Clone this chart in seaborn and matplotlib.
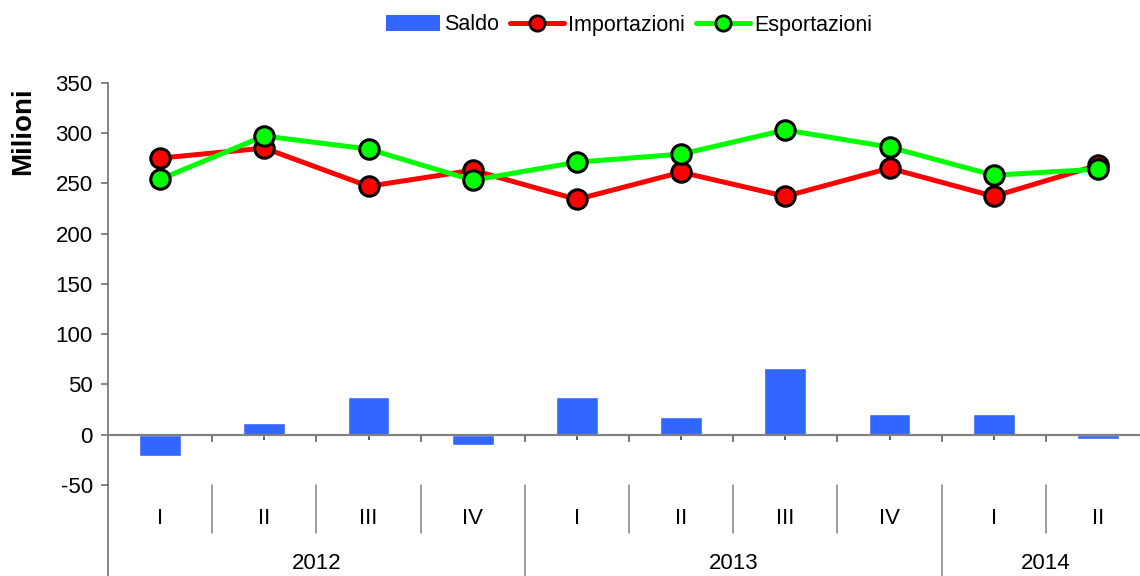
import numpy as np
import pandas as pd
import matplotlib
matplotlib.use("Agg")
import matplotlib.pyplot as plt
import matplotlib.transforms as mtransforms
from matplotlib.patches import Patch
from matplotlib.lines import Line2D
import seaborn as sns

# ── Dati ────────────────────────────────────────────────────────────────────
trimestri = ["I", "II", "III", "IV", "I", "II", "III", "IV", "I", "II"]
anni = ["2012", "2012", "2012", "2012", "2013", "2013", "2013", "2013", "2014", "2014"]
importazioni = [275, 285, 247, 263, 234, 261, 237, 265, 237, 268]
esportazioni = [254, 297, 284, 253, 271, 279, 303, 286, 258, 264]
saldo = [-21, 12, 37, -10, 37, 18, 66, 21, 21, -4]

anni_etichette = ["2012", "2013", "2014"]

df = pd.DataFrame({
    "periodo": [f"{a}-{t}" for a, t in zip(anni, trimestri)],
    "trimestre": trimestri,
    "anno": anni,
    "Importazioni": importazioni,
    "Esportazioni": esportazioni,
    "Saldo": saldo,
})
df["pos"] = np.arange(len(df))

# ── Stile ───────────────────────────────────────────────────────────────────
sns.set_theme(style="white")
plt.rcParams["font.family"] = ["Liberation Sans", "DejaVu Sans"]
plt.rcParams["axes.unicode_minus"] = False
plt.rcParams["text.color"] = "black"
plt.rcParams["ytick.labelcolor"] = "black"

C_SALDO = "#3366FF"
C_IMP = "#FF0000"
C_ESP = "#00FF00"
GRIGIO = "#808080"
FS = 16
MS, MEW, LW = 14, 2.2, 3.6

fig = plt.figure(figsize=(11.4, 5.76), dpi=100)
ax = fig.add_axes([108 / 1140, 91 / 576, 1042 / 1140, (485 - 82.7) / 576])

# barre del saldo
sns.barplot(data=df, x="periodo", y="Saldo", order=df["periodo"], color=C_SALDO,
            saturation=1, width=0.4, errorbar=None, ax=ax, zorder=1)

# linee import/export
for col, c in [("Importazioni", C_IMP), ("Esportazioni", C_ESP)]:
    sns.lineplot(data=df, x="pos", y=col, color=c, lw=LW, marker="o",
                 markersize=MS, markeredgecolor="black", markeredgewidth=MEW,
                 markerfacecolor=c, ax=ax, zorder=3)

ax.set_xlim(-0.5, len(df) - 0.5)
ax.set_ylim(-50, 350)
ax.set_yticks(np.arange(-50, 351, 50))
ax.set_xlabel("")
ax.set_ylabel("")

# assi
for s in ["top", "right"]:
    ax.spines[s].set_visible(False)
ax.spines["left"].set_color("#666666")
ax.spines["left"].set_linewidth(1.1)
ax.spines["bottom"].set_position(("data", 0))
ax.spines["bottom"].set_color(GRIGIO)
ax.spines["bottom"].set_linewidth(1.6)
ax.spines["bottom"].set_zorder(2.5)

ax.set_xticks(np.arange(0.5, len(df) - 0.5, 1.0))
ax.set_xticks(np.arange(len(df)), minor=True)
ax.tick_params(axis="x", which="major", direction="out", length=5, width=1.1,
               color="#555555", labelbottom=False, bottom=True)
ax.tick_params(axis="x", which="minor", direction="out", length=3.5, width=1.1,
               color="#333333", labelbottom=False, bottom=True)
ax.tick_params(axis="y", direction="out", length=5, width=1.1, color="#666666",
               labelsize=FS, pad=6, left=True, labelcolor="black")

# etichette asse categorie (due livelli)
y_bot = -141
for i in range(len(df)):
    ax.text(i, -83, df["trimestre"][i], ha="center", va="center", fontsize=FS,
            clip_on=False)
confini_anno = [i + 0.5 for i in range(len(df) - 1) if anni[i] != anni[i + 1]]
for b in np.arange(0.5, len(df) - 0.5, 1.0):
    if b in confini_anno:
        ax.plot([b, b], [-50, y_bot], color=GRIGIO, lw=1.1, clip_on=False)
    else:
        ax.plot([b, b], [-50, -98], color=GRIGIO, lw=1.1, clip_on=False)
ax.plot([-0.5, -0.5], [-50, y_bot], color="#666666", lw=1.1, clip_on=False)
for a in anni_etichette:
    idx = df.index[df["anno"] == a]
    ax.text(idx.values.mean(), -128, a, ha="center", va="center", fontsize=FS,
            clip_on=False)

# titolo asse y
fig.text(23 / 1140, 1 - 131.5 / 576, "Milioni", rotation=90, ha="center",
         va="center", fontsize=20, fontweight="bold")

# legenda
handles = [
    Patch(facecolor=C_SALDO, edgecolor="none", label="Saldo"),
    Line2D([0], [0], color=C_IMP, lw=LW, marker="o", markersize=11,
           markerfacecolor=C_IMP, markeredgecolor="black", markeredgewidth=2,
           label="Importazioni"),
    Line2D([0], [0], color=C_ESP, lw=LW, marker="o", markersize=11,
           markerfacecolor=C_ESP, markeredgecolor="black", markeredgewidth=2,
           label="Esportazioni"),
]
trans = mtransforms.blended_transform_factory(ax.transAxes, fig.transFigure)
ax.legend(handles=handles, loc="center", bbox_to_anchor=(0.5, 1 - 25 / 576),
          bbox_transform=trans, ncol=3, frameon=False, fontsize=15.5,
          handlelength=2.5, handletextpad=0.2, columnspacing=0.5,
          borderaxespad=0, numpoints=1)

fig.savefig("out.png", dpi=100)
